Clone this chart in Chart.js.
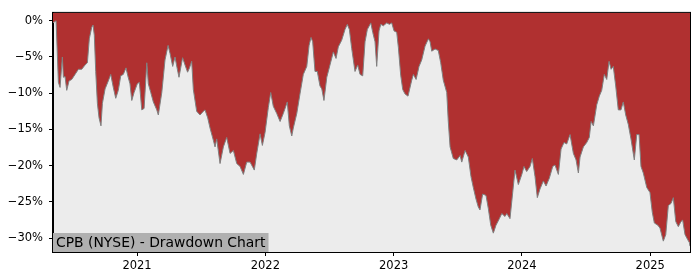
<!DOCTYPE html>
<html>
<head>
<meta charset="utf-8">
<title>CPB (NYSE) - Drawdown Chart</title>
<script src="https://cdn.jsdelivr.net/npm/chart.js@4.4.1/dist/chart.umd.min.js"></script>
<style>
  body { margin: 0; background: #fff; }
  .chart-box { width: 700px; height: 280px; }
</style>
</head>
<body>
<div class="chart-box"><canvas id="myChart" width="700" height="280"></canvas></div>
<script>
// values (x = decimal year, y = drawdown in %)
const dates = [
  2020.345, 2020.369, 2020.387, 2020.400, 2020.418, 2020.426, 2020.439, 2020.452, 2020.470, 2020.491,
  2020.517, 2020.543, 2020.569, 2020.595, 2020.613, 2020.628, 2020.647, 2020.657, 2020.667, 2020.678,
  2020.691, 2020.704, 2020.719, 2020.730, 2020.751, 2020.776, 2020.795, 2020.815, 2020.834, 2020.854,
  2020.873, 2020.893, 2020.914, 2020.928, 2020.945, 2020.959, 2020.977, 2021.002, 2021.018, 2021.037,
  2021.055, 2021.076, 2021.088, 2021.107, 2021.127, 2021.154, 2021.166, 2021.193, 2021.218, 2021.242,
  2021.257, 2021.278, 2021.296, 2021.312, 2021.327, 2021.355, 2021.374, 2021.394, 2021.409, 2021.426,
  2021.439, 2021.465, 2021.491, 2021.517, 2021.530, 2021.551, 2021.569, 2021.595, 2021.608, 2021.621,
  2021.647, 2021.673, 2021.699, 2021.725, 2021.751, 2021.777, 2021.803, 2021.829, 2021.855, 2021.881,
  2021.914, 2021.933, 2021.959, 2021.977, 2021.998, 2022.023, 2022.042, 2022.062, 2022.089, 2022.115,
  2022.140, 2022.171, 2022.187, 2022.206, 2022.218, 2022.245, 2022.270, 2022.296, 2022.323, 2022.341,
  2022.356, 2022.369, 2022.387, 2022.405, 2022.426, 2022.440, 2022.457, 2022.479, 2022.504, 2022.530,
  2022.551, 2022.569, 2022.595, 2022.621, 2022.639, 2022.655, 2022.673, 2022.699, 2022.720, 2022.738,
  2022.759, 2022.777, 2022.795, 2022.822, 2022.837, 2022.855, 2022.868, 2022.886, 2022.900, 2022.920,
  2022.946, 2022.967, 2022.985, 2023.003, 2023.024, 2023.037, 2023.055, 2023.071, 2023.089, 2023.112,
  2023.141, 2023.154, 2023.175, 2023.198, 2023.219, 2023.245, 2023.271, 2023.284, 2023.297, 2023.323,
  2023.348, 2023.367, 2023.387, 2023.414, 2023.426, 2023.440, 2023.465, 2023.492, 2023.518, 2023.531,
  2023.557, 2023.582, 2023.603, 2023.621, 2023.642, 2023.660, 2023.673, 2023.694, 2023.720, 2023.738,
  2023.757, 2023.777, 2023.798, 2023.824, 2023.843, 2023.868, 2023.882, 2023.907, 2023.928, 2023.946,
  2023.972, 2023.999, 2024.016, 2024.037, 2024.063, 2024.081, 2024.102, 2024.120, 2024.141, 2024.167,
  2024.188, 2024.214, 2024.240, 2024.258, 2024.284, 2024.305, 2024.328, 2024.349, 2024.375, 2024.401,
  2024.422, 2024.440, 2024.453, 2024.479, 2024.505, 2024.525, 2024.539, 2024.557, 2024.583, 2024.603,
  2024.622, 2024.642, 2024.661, 2024.679, 2024.695, 2024.712, 2024.731, 2024.751, 2024.772, 2024.790,
  2024.809, 2024.829, 2024.850, 2024.876, 2024.895, 2024.913, 2024.928, 2024.946, 2024.973, 2024.998,
  2025.016, 2025.032, 2025.059, 2025.076, 2025.102, 2025.121, 2025.141, 2025.162, 2025.180, 2025.199,
  2025.219, 2025.240, 2025.253, 2025.271, 2025.292, 2025.305, 2025.310
];
const drawdown = [
  -0.3, 0.0, -8.5, -9.2, -5.0, -7.8, -7.7, -9.6, -8.3, -8.1,
  -7.4, -6.7, -6.7, -6.1, -5.8, -2.5, -0.9, -0.6, -2.0, -7.0,
  -11.4, -13.4, -14.5, -11.4, -9.4, -8.3, -7.4, -9.2, -10.7, -9.6,
  -7.6, -7.4, -6.5, -7.6, -8.7, -11.0, -9.9, -8.7, -8.5, -12.3,
  -12.1, -5.8, -8.7, -9.9, -11.2, -12.3, -13.0, -9.9, -5.4, -3.4,
  -4.5, -6.3, -5.0, -6.5, -7.8, -5.1, -6.1, -7.1, -6.5, -5.6,
  -9.5, -12.5, -13.0, -12.5, -12.3, -13.4, -14.8, -16.5, -17.4, -16.3,
  -19.7, -17.4, -16.1, -18.3, -17.9, -19.7, -20.1, -21.2, -19.5, -19.5,
  -20.6, -18.3, -15.6, -17.2, -15.4, -12.0, -9.9, -11.8, -12.8, -13.9,
  -12.8, -11.2, -14.5, -15.9, -14.8, -12.8, -10.1, -7.4, -6.3, -3.4,
  -2.3, -2.9, -7.0, -7.0, -9.0, -9.4, -11.0, -7.8, -6.1, -4.3,
  -5.2, -3.6, -2.7, -1.2, -0.5, -1.2, -3.8, -7.0, -6.1, -7.4,
  -7.6, -2.9, -1.2, -0.3, -1.6, -2.9, -6.3, -1.4, -0.5, -0.7,
  -0.3, -0.5, -0.3, -1.4, -1.6, -3.7, -7.5, -9.5, -10.1, -10.4,
  -8.2, -7.4, -8.1, -6.3, -5.4, -3.5, -2.5, -2.9, -4.2, -3.9,
  -4.1, -5.8, -8.2, -9.9, -13.9, -17.4, -19.0, -19.2, -18.6, -19.5,
  -17.9, -18.8, -21.5, -23.0, -24.6, -25.7, -26.1, -23.9, -24.1, -25.9,
  -28.2, -29.3, -28.2, -27.3, -26.6, -27.0, -26.6, -27.3, -23.7, -20.6,
  -22.6, -21.2, -20.1, -20.8, -20.1, -19.0, -21.5, -24.4, -23.2, -22.1,
  -22.8, -21.7, -20.1, -19.9, -21.2, -17.7, -16.8, -17.0, -15.7, -18.3,
  -19.2, -21.0, -18.8, -17.4, -16.8, -16.1, -13.9, -14.5, -11.6, -10.4,
  -9.6, -7.4, -8.1, -5.6, -6.7, -6.3, -9.0, -12.3, -12.3, -11.2,
  -13.0, -14.3, -16.3, -19.2, -15.7, -15.7, -20.1, -21.0, -23.0, -23.7,
  -26.4, -27.9, -28.2, -28.6, -30.4, -29.5, -25.5, -25.2, -24.4, -27.7,
  -28.4, -27.7, -27.5, -29.5, -30.2, -30.6, -31.1
];
const yearTicks = [2021, 2022, 2023, 2024, 2025];
const percentTicks = [0, -5, -10, -15, -20, -25, -30];
const chartLabel = "CPB (NYSE) - Drawdown Chart";

const FONT = "'DejaVu Sans', sans-serif";

const framePlugin = {
  id: "frame",
  beforeDraw(chart) {
    const { ctx, chartArea: a } = chart;
    ctx.save();
    ctx.fillStyle = "#ececec";
    ctx.fillRect(a.left, a.top, a.right - a.left, a.bottom - a.top);
    ctx.restore();
  },
  afterDraw(chart) {
    const { ctx, chartArea: a } = chart;
    ctx.save();
    // label box in the lower left corner
    ctx.font = "13.9px " + FONT;
    const w = ctx.measureText(chartLabel).width + 6;
    ctx.fillStyle = "#b0b0b0";
    ctx.fillRect(a.left, a.bottom - 19, w, 19);
    ctx.fillStyle = "#000";
    ctx.textBaseline = "alphabetic";
    ctx.fillText(chartLabel, a.left + 3, a.bottom - 5);
    // spines
    ctx.strokeStyle = "#000";
    ctx.lineWidth = 1;
    ctx.strokeRect(a.left - 0.5, a.top - 0.5, a.right - a.left + 1, a.bottom - a.top + 1);
    ctx.restore();
  },
};

function createChart() {
  const ctx = document.getElementById("myChart");
  const points = dates.map((d, i) => ({ x: d, y: drawdown[i] }));

  new Chart(ctx, {
    type: "line",
    data: {
      datasets: [
        {
          data: points,
          fill: "end",
          backgroundColor: "#b03030",
          borderColor: "#808080",
          borderWidth: 1,
          pointRadius: 0,
          tension: 0,
        },
      ],
    },
    options: {
      responsive: false,
      animation: false,
      layout: { padding: { top: 7, right: 10, left: 0, bottom: 0 } },
      plugins: {
        legend: { display: false },
        tooltip: { enabled: false },
      },
      scales: {
        x: {
          type: "linear",
          min: 2020.345,
          max: 2025.31,
          afterFit(scale) {
            scale.height = 28;
          },
          afterBuildTicks(scale) {
            scale.ticks = yearTicks.map((v) => ({ value: v }));
          },
          ticks: {
            color: "#000",
            font: { family: FONT, size: 11.5 },
            padding: 3,
            maxRotation: 0,
            callback: (v) => String(v),
          },
          grid: { drawOnChartArea: false, tickLength: 4, tickColor: "#000" },
          border: { color: "#000" },
        },
        y: {
          min: -31.9,
          max: 1.08,
          afterFit(scale) {
            scale.width = 53;
          },
          afterBuildTicks(scale) {
            scale.ticks = percentTicks.map((v) => ({ value: v }));
          },
          ticks: {
            color: "#000",
            font: { family: FONT, size: 11.5 },
            padding: 6,
            callback: (v) => (v < 0 ? "\u2212" + Math.abs(v) : v) + "%",
          },
          grid: { drawOnChartArea: false, tickLength: 4, tickColor: "#000" },
          border: { color: "#000" },
        },
      },
    },
    plugins: [framePlugin],
  });
}

createChart();
</script>
</body>
</html>
